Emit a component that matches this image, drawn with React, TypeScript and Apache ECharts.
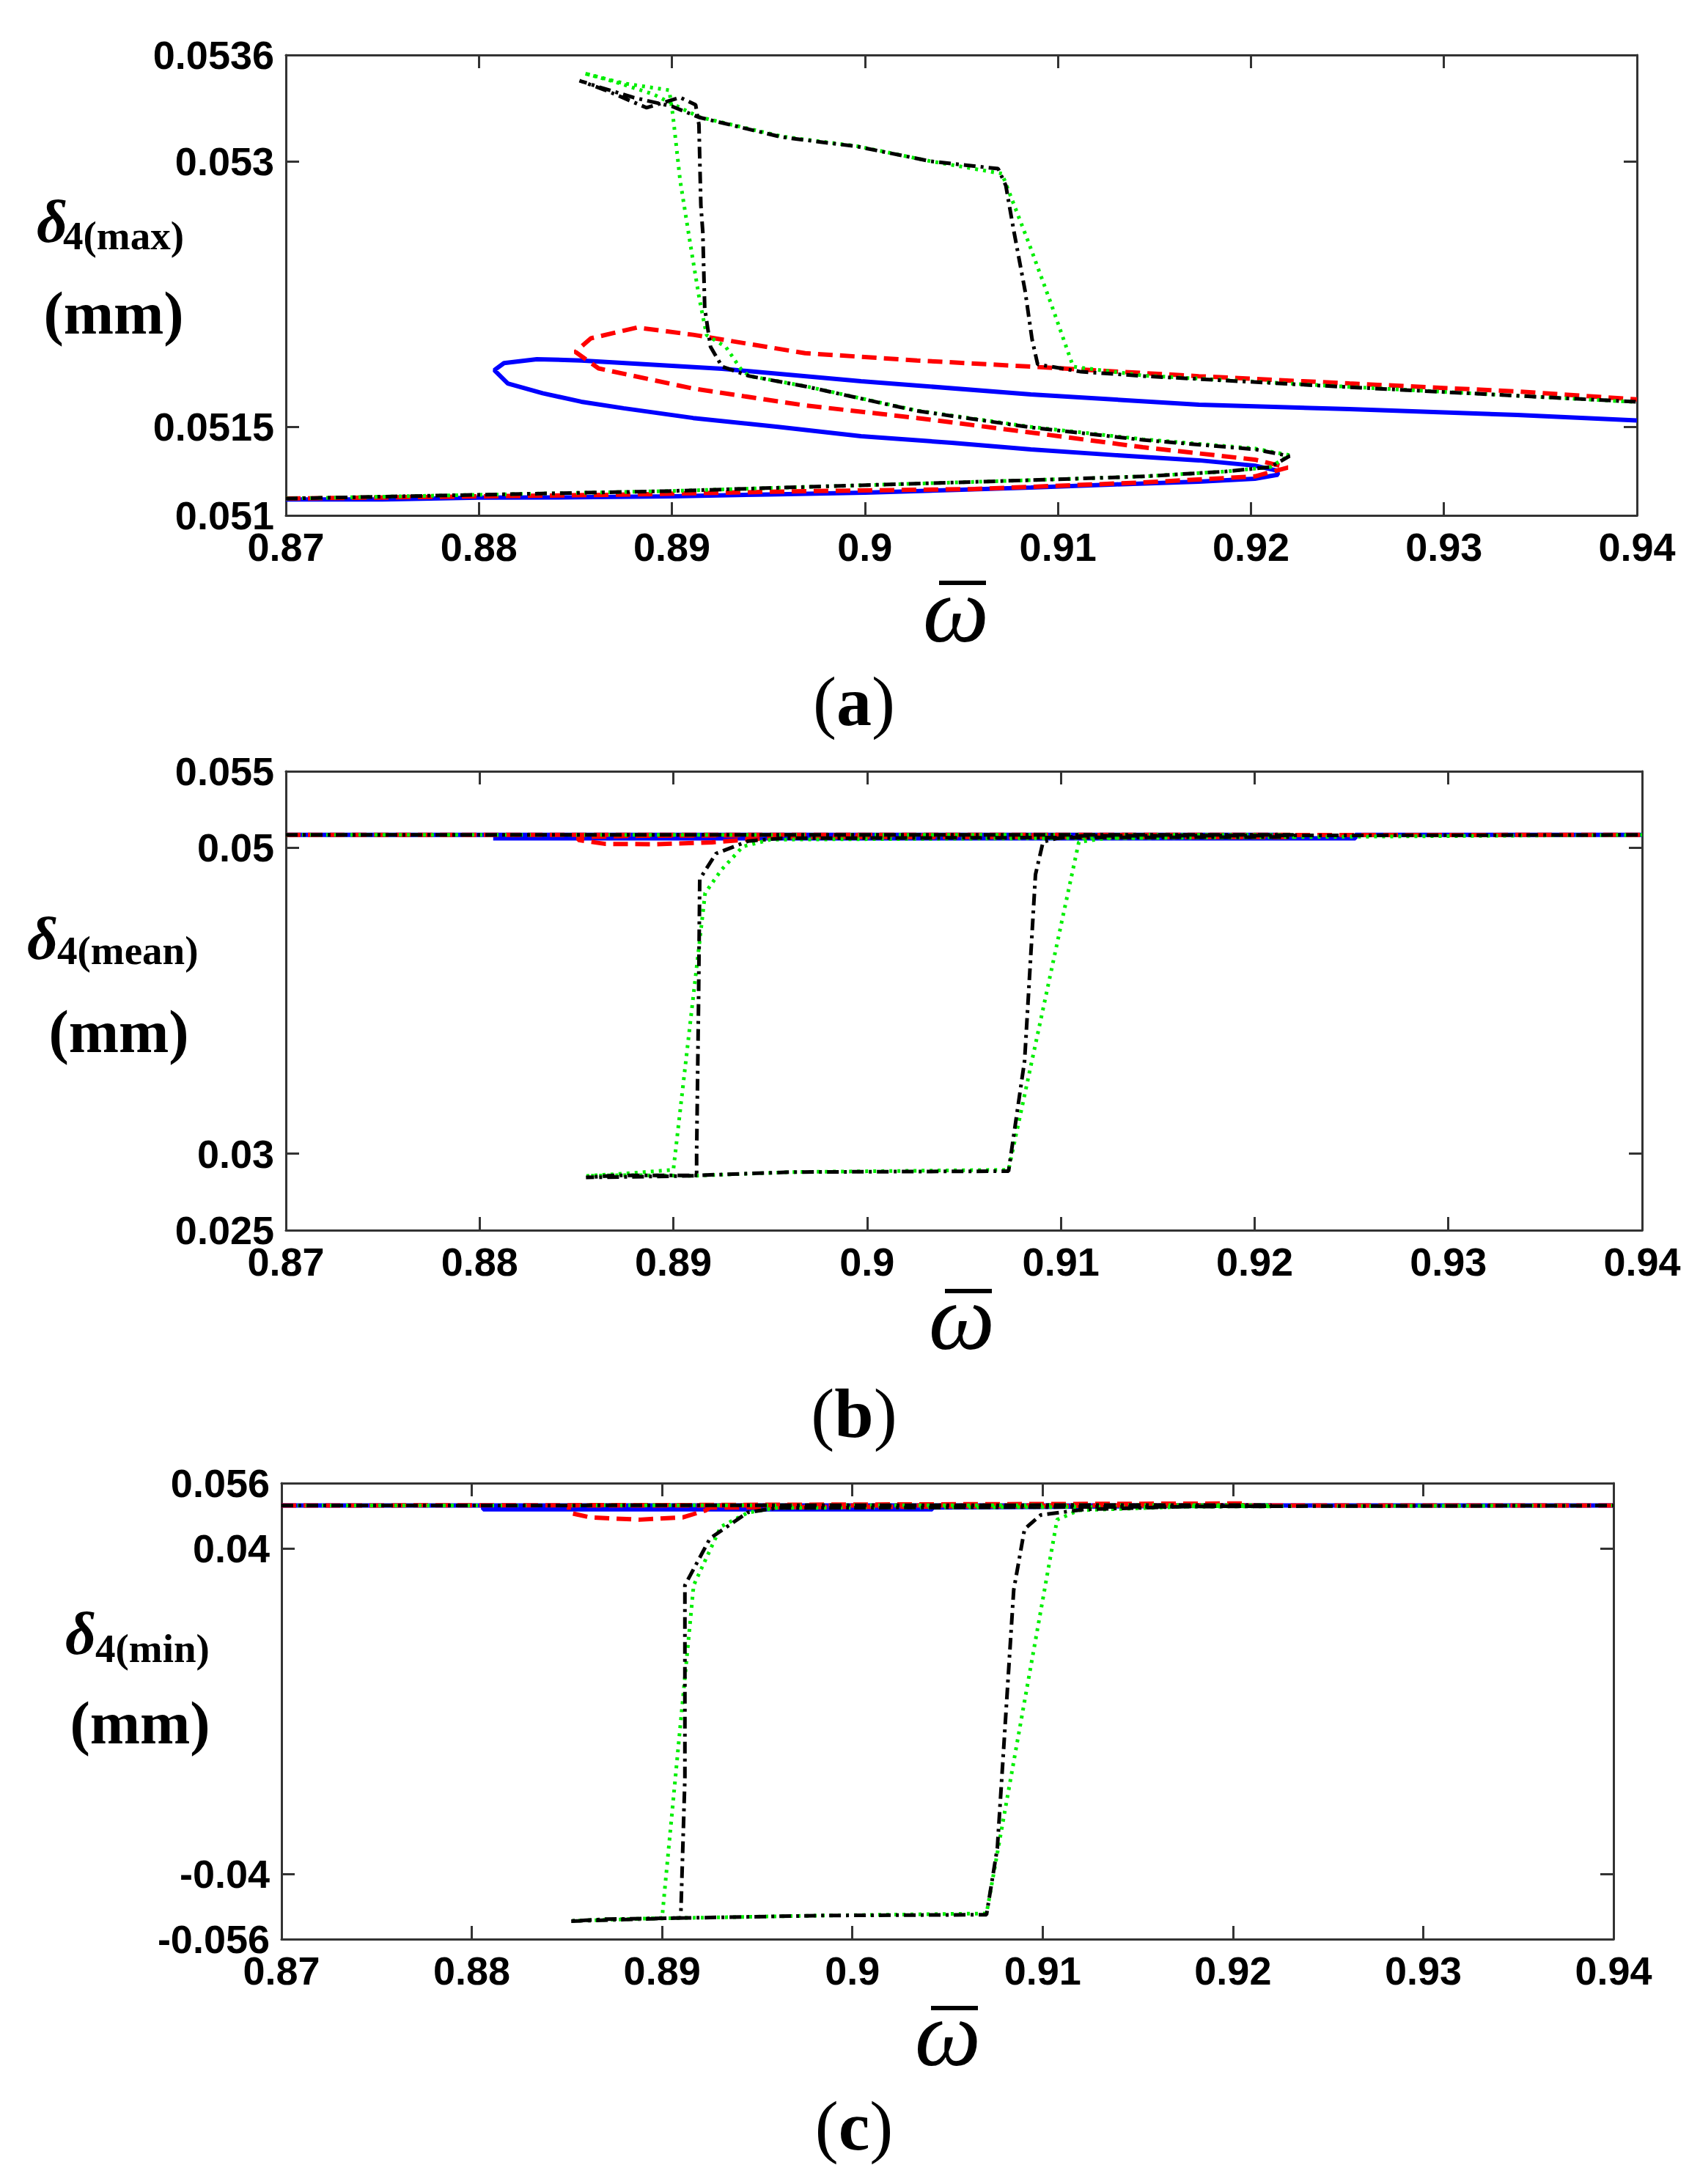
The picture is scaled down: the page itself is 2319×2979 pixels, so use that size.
import React, { useEffect, useRef } from "react";
import * as echarts from "echarts";

// ---------- tick values ----------
const xTicks = [0.87, 0.88, 0.89, 0.9, 0.91, 0.92, 0.93, 0.94];
const aYTicks = [0.051, 0.0515, 0.053, 0.0536];
const bYTicks = [0.025, 0.03, 0.05, 0.055];
const cYTicks = [-0.056, -0.04, 0.04, 0.056];

// ---------- panel (a): delta4(max) ----------
const aBlueX = [0.87, 0.875, 0.88, 0.885, 0.89, 0.895, 0.9, 0.905, 0.9086, 0.913, 0.9173, 0.9202, 0.9214, 0.92135,
  0.9202, 0.9173, 0.913, 0.9086, 0.9045, 0.8998, 0.8955, 0.8911, 0.8875, 0.8853, 0.8833, 0.8815, 0.8808, 0.8813,
  0.883, 0.8853, 0.8926, 0.8998, 0.9086, 0.9173, 0.9251, 0.9338, 0.94];
const aBlueY = [0.05109, 0.05109, 0.0511, 0.051102, 0.051108, 0.051118, 0.051128, 0.051145, 0.051157, 0.051175, 0.05119, 0.051207, 0.05123, 0.051253,
  0.051281, 0.051311, 0.05134, 0.051373, 0.05141, 0.051447, 0.0515, 0.05155, 0.051605, 0.051642, 0.05169, 0.051745, 0.05182, 0.05186,
  0.051882, 0.051875, 0.051828, 0.051758, 0.051683, 0.051625, 0.0516, 0.051567, 0.051536];

const aRedX = [0.87, 0.8868, 0.8969, 0.9057, 0.9144, 0.9202, 0.9219,
  0.9202, 0.9144, 0.9086, 0.9027, 0.8969, 0.8911, 0.8862, 0.885, 0.8858, 0.8882, 0.8911, 0.8969, 0.9027, 0.9086,
  0.9173, 0.9251, 0.9338, 0.94];
const aRedY = [0.051095, 0.051116, 0.051137, 0.051149, 0.051186, 0.05122, 0.05127,
  0.051315, 0.051385, 0.051468, 0.05155, 0.051621, 0.051716, 0.05183, 0.051923, 0.052, 0.052061, 0.05202, 0.051916, 0.051875, 0.05184,
  0.051786, 0.051745, 0.0517, 0.051655];

const aBlackX = [0.87, 0.8897, 0.8998, 0.9086, 0.9144, 0.9187, 0.921, 0.922,
  0.9202, 0.9144, 0.9086, 0.9027, 0.8969, 0.894, 0.8926, 0.892, 0.8917, 0.8916, 0.8915, 0.8914, 0.89123, 0.89043,
  0.88869, 0.88656, 0.88521,
  0.8862, 0.888, 0.89, 0.8914, 0.8957, 0.8996, 0.9034, 0.9069, 0.9073, 0.9077, 0.9083, 0.90866, 0.90895,
  0.9112, 0.9144, 0.9251, 0.94];
const aBlackY = [0.051095, 0.051137, 0.05117, 0.051199, 0.05122, 0.051248, 0.051273, 0.051335,
  0.051373, 0.051426, 0.051497, 0.05159, 0.051729, 0.051787, 0.05184, 0.051952, 0.05217, 0.0526, 0.052751, 0.053207, 0.053318, 0.05336,
  0.053302, 0.053401, 0.053455,
  0.05342, 0.05336, 0.05331, 0.053248, 0.053136, 0.053083, 0.053, 0.052958, 0.052863, 0.052615, 0.052267, 0.051994, 0.051853,
  0.051811, 0.051787, 0.051724, 0.051641];

const aGreenX = [0.87, 0.8897, 0.8998, 0.9086, 0.9144, 0.9187, 0.921, 0.922,
  0.9202, 0.9144, 0.9086, 0.9027, 0.8969, 0.894, 0.89355, 0.89279, 0.8918, 0.89142, 0.89104, 0.89043, 0.89005,
  0.88986, 0.8875, 0.88543,
  0.887, 0.889, 0.8914, 0.8957, 0.8996, 0.9034, 0.9071, 0.90847, 0.90963, 0.91079, 0.9144, 0.9251, 0.94];
const aGreenY = [0.051095, 0.051137, 0.05117, 0.051199, 0.05122, 0.051248, 0.051273, 0.05134,
  0.051378, 0.05143, 0.0515, 0.051592, 0.05173, 0.051787, 0.05183, 0.051952, 0.052018, 0.052225, 0.052474, 0.052888, 0.05326,
  0.053401, 0.05344, 0.053497,
  0.05345, 0.05338, 0.05325, 0.05314, 0.053085, 0.053, 0.05293, 0.052544, 0.0522, 0.05184, 0.05179, 0.051726, 0.05164];

// ---------- panel (b): delta4(mean) ----------
const bBlueX = [0.87, 0.9212, 0.9212, 0.8807, 0.8807, 0.9252, 0.9252, 0.94];
const bBlueY = [0.05084, 0.05084, 0.05064, 0.05062, 0.05064, 0.05062, 0.05084, 0.05084];

const bRedX = [0.87, 0.9219, 0.9219, 0.8955, 0.8935, 0.892, 0.889, 0.8865, 0.8851, 0.8851, 0.8882, 0.8955, 0.94];
const bRedY = [0.05084, 0.05084, 0.0507, 0.0507, 0.0505, 0.05035, 0.05023, 0.05025, 0.0505, 0.0507, 0.05078, 0.05082, 0.05084];

const bBlackX = [0.87, 0.922, 0.922, 0.8956, 0.89387, 0.8922, 0.89136, 0.8913, 0.8912, 0.8912, 0.8885, 0.88549, 0.887,
  0.8911, 0.8961, 0.9073, 0.90813, 0.90869, 0.90908, 0.90981, 0.9112, 0.94];
const bBlackY = [0.05084, 0.05084, 0.0507, 0.05062, 0.05044, 0.04962, 0.04795, 0.04, 0.03, 0.02856, 0.0285, 0.02845, 0.02858,
  0.02858, 0.0288, 0.02886, 0.0361, 0.04825, 0.05038, 0.05062, 0.05078, 0.05084];

const bGreenX = [0.87, 0.922, 0.922, 0.895, 0.89359, 0.89248, 0.89164, 0.89, 0.8875, 0.8855, 0.8875, 0.8911, 0.8961,
  0.9073, 0.91093, 0.91232, 0.94];
const bGreenY = [0.05084, 0.05084, 0.0507, 0.05053, 0.05008, 0.04856, 0.04704, 0.02895, 0.0287, 0.02855, 0.0286, 0.02856, 0.0288,
  0.02895, 0.05038, 0.05062, 0.05084];

// ---------- panel (c): delta4(min) ----------
const cBlueX = [0.87, 0.9212, 0.9042, 0.9042, 0.8806, 0.8806, 0.94];
const cBlueY = [0.0505, 0.0505, 0.05, 0.04955, 0.04955, 0.0505, 0.0505];

const cRedX = [0.87, 0.89, 0.9207, 0.9207, 0.8925, 0.8923, 0.8911, 0.8888, 0.8862, 0.8851, 0.8851, 0.94];
const cRedY = [0.0505, 0.0506, 0.051, 0.0506, 0.05, 0.04932, 0.0476, 0.04702, 0.0476, 0.04875, 0.0505, 0.0505];

const cBlackX = [0.87, 0.922, 0.922, 0.896, 0.8945, 0.89252, 0.8912, 0.8912, 0.89098, 0.888, 0.88511, 0.887, 0.8912,
  0.8985, 0.90705, 0.90762, 0.90848, 0.90905, 0.9099, 0.91218, 0.918, 0.94];
const cBlackY = [0.0505, 0.0506, 0.0503, 0.0499, 0.0488, 0.04242, 0.03091, -0.0163, -0.0508, -0.0512, -0.0516, -0.0511, -0.0508,
  -0.0502, -0.05, -0.0336, 0.02976, 0.04472, 0.04817, 0.04955, 0.0503, 0.0505];

const cGreenX = [0.87, 0.922, 0.922, 0.896, 0.89451, 0.89309, 0.89166, 0.89, 0.8875, 0.8853, 0.8875, 0.8912, 0.8985,
  0.90705, 0.91076, 0.9119, 0.918, 0.94];
const cGreenY = [0.0505, 0.0506, 0.0503, 0.0499, 0.04875, 0.0453, 0.03091, -0.0508, -0.0512, -0.0515, -0.0511, -0.0508, -0.0502,
  -0.0497, 0.04702, 0.04932, 0.0503, 0.0505];

// ---------- helpers ----------
const zip = (xs: number[], ys: number[]) => xs.map((x, i) => [x, ys[i]]);
const fmt = (v: number) => String(Math.round(v * 10000) / 10000);
const axisColor = "#333333";

function buildOption() {
  const panels = [
    { grid: { left: 390, top: 75, width: 1843, height: 628 }, min: 0.051, max: 0.0536, ticks: aYTicks,
      s: [[aBlueX, aBlueY], [aRedX, aRedY], [aGreenX, aGreenY], [aBlackX, aBlackY]] },
    { grid: { left: 390, top: 1052, width: 1850, height: 626 }, min: 0.025, max: 0.055, ticks: bYTicks,
      s: [[bBlueX, bBlueY], [bRedX, bRedY], [bGreenX, bGreenY], [bBlackX, bBlackY]] },
    { grid: { left: 384, top: 2023, width: 1817, height: 622 }, min: -0.056, max: 0.056, ticks: cYTicks,
      s: [[cBlueX, cBlueY], [cRedX, cRedY], [cGreenX, cGreenY], [cBlackX, cBlackY]] },
  ];
  const lineStyles = [
    { color: "#0000ff", width: 6, type: "solid" },
    { color: "#ff0000", width: 6, type: [20, 10] },
    { color: "#00ee00", width: 5, type: [4, 7] },
    { color: "#000000", width: 5, type: [16, 7, 4, 7] },
  ];
  const label = {
    fontFamily: "Liberation Sans", fontWeight: "bold", fontSize: 54, color: "#000", formatter: fmt,
  };
  const grids: any[] = [];
  const xAxis: any[] = [];
  const yAxis: any[] = [];
  const series: any[] = [];
  panels.forEach((p, i) => {
    grids.push(p.grid);
    const line = { show: true, onZero: false, lineStyle: { color: axisColor, width: 3 } };
    const tick = (vals: number[]) => ({ show: true, inside: true, length: 18, customValues: vals, lineStyle: { color: axisColor, width: 3 } });
    xAxis.push({ type: "value", gridIndex: i, position: "bottom", min: 0.87, max: 0.94, axisLine: line,
      axisTick: tick(xTicks), axisLabel: { ...label, margin: 16, customValues: xTicks }, splitLine: { show: false } });
    xAxis.push({ type: "value", gridIndex: i, position: "top", min: 0.87, max: 0.94, axisLine: line,
      axisTick: tick(xTicks), axisLabel: { show: false }, splitLine: { show: false } });
    yAxis.push({ type: "value", gridIndex: i, position: "left", min: p.min, max: p.max, axisLine: line,
      axisTick: tick(p.ticks), axisLabel: { ...label, margin: 16, customValues: p.ticks }, splitLine: { show: false } });
    yAxis.push({ type: "value", gridIndex: i, position: "right", min: p.min, max: p.max, axisLine: line,
      axisTick: tick(p.ticks), axisLabel: { show: false }, splitLine: { show: false } });
    p.s.forEach((d, k) => {
      series.push({ type: "line", xAxisIndex: 2 * i, yAxisIndex: 2 * i, data: zip(d[0], d[1]), symbol: "none",
        showSymbol: false, silent: true, clip: true, lineStyle: lineStyles[k], z: 2 + k });
    });
  });

  const serif = '"Liberation Serif", "Times New Roman", serif';
  const yLabels = [
    { dx: 50, dy: 302, sx: 86, sy: 321, sub: "4(max)", mx: 155, my: 427 },
    { dx: 37, dy: 1280, sx: 78, sy: 1296, sub: "4(mean)", mx: 162, my: 1407 },
    { dx: 89, dy: 2228, sx: 130, sy: 2248, sub: "4(min)", mx: 191, my: 2350 },
  ];
  const omegas = [
    { cx: 1304, bar: 795, cy: 841 },
    { cx: 1312, bar: 1761, cy: 1806 },
    { cx: 1293, bar: 2739, cy: 2783 },
  ];
  const captions = [
    { t: "a", y: 962 }, { t: "b", y: 1933 }, { t: "c", y: 2905 },
  ];
  const graphic: any[] = [];
  yLabels.forEach((l) => {
    graphic.push({ type: "text", x: l.dx, y: l.dy, style: { text: "δ", font: `italic bold 82px ${serif}`, fill: "#000", align: "left", verticalAlign: "middle" } });
    graphic.push({ type: "text", x: l.sx, y: l.sy, style: { text: l.sub, font: `bold 55px ${serif}`, fill: "#000", align: "left", verticalAlign: "middle" } });
    graphic.push({ type: "text", x: l.mx, y: l.my, style: { text: "(mm)", font: `bold 82px ${serif}`, fill: "#000", align: "center", verticalAlign: "middle" } });
  });
  omegas.forEach((o) => {
    graphic.push({ type: "text", x: o.cx, y: o.cy - 9, style: { text: "ω", font: `italic 128px ${serif}`, fill: "#000", align: "center", verticalAlign: "middle" } });
    graphic.push({ type: "line", shape: { x1: o.cx - 23, y1: o.bar, x2: o.cx + 41, y2: o.bar }, style: { stroke: "#000", lineWidth: 6 } });
  });
  captions.forEach((c) => {
    graphic.push({ type: "text", x: 1165, y: c.y - 6, style: {
      text: `{p|(}{b|${c.t}}{p|)}`, align: "center", verticalAlign: "middle", fill: "#000",
      rich: { p: { font: `96px ${serif}`, fill: "#000" }, b: { font: `bold 96px ${serif}`, fill: "#000" } } } });
  });

  return { animation: false, backgroundColor: "#ffffff", grid: grids, xAxis, yAxis, series, graphic };
}

export default function App() {
  const ref = useRef<HTMLDivElement>(null);
  useEffect(() => {
    document.body.style.margin = "0";
    const chart = echarts.init(ref.current as HTMLDivElement, null, { renderer: "svg" });
    chart.setOption(buildOption() as any);
    return () => chart.dispose();
  }, []);
  return <div ref={ref} style={{ width: 2319, height: 2979, background: "#fff" }} />;
}
